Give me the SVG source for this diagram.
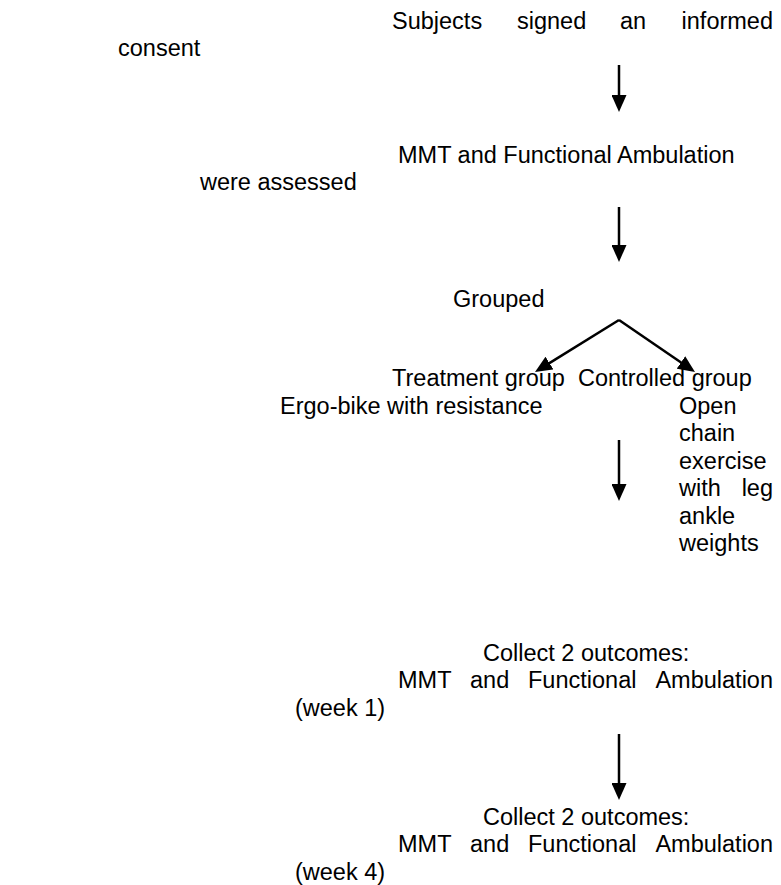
<svg xmlns="http://www.w3.org/2000/svg" width="781" height="885" viewBox="0 0 781 885">
<style>
text { font-family: "Liberation Sans", Arial, sans-serif; font-size: 23.5px; fill: #000; }
.end { text-anchor: end; }
.conn { stroke: #000; stroke-width: 2.5; fill: none; marker-end: url(#head); }
</style>
<defs>
<marker id="head" markerUnits="userSpaceOnUse" markerWidth="17" markerHeight="15" refX="1" refY="7.5" orient="auto" viewBox="0 0 17 15">
<path d="M0,0 L17,7.5 L0,15 z" fill="#000"/>
</marker>
</defs>
<rect width="781" height="885" fill="#fff"/>
<g id="consent">
<text x="392" y="29">Subjects</text>
<text x="517" y="29">signed</text>
<text x="620" y="29">an</text>
<text x="773" y="29" class="end">informed</text>
<text x="118" y="56">consent</text>
</g>
<g id="assessed">
<text x="398" y="163">MMT and Functional Ambulation</text>
<text x="200" y="190">were assessed</text>
</g>
<g id="grouped">
<text x="453" y="307">Grouped</text>
</g>
<g id="treatment">
<text x="392" y="386">Treatment group</text>
<text x="280" y="414">Ergo-bike with resistance</text>
</g>
<g id="controlled">
<text x="578" y="386">Controlled group</text>
<text x="679" y="414">Open</text>
<text x="679" y="441">chain</text>
<text x="679" y="469">exercise</text>
<text x="679" y="496">with</text>
<text x="773" y="496" class="end">leg</text>
<text x="679" y="524">ankle</text>
<text x="679" y="551">weights</text>
</g>
<g id="week1">
<text x="483" y="661">Collect 2 outcomes:</text>
<text x="398" y="688">MMT</text>
<text x="470" y="688">and</text>
<text x="528" y="688">Functional</text>
<text x="773" y="688" class="end">Ambulation</text>
<text x="295" y="716">(week 1)</text>
</g>
<g id="week4">
<text x="483" y="825">Collect 2 outcomes:</text>
<text x="398" y="852">MMT</text>
<text x="470" y="852">and</text>
<text x="528" y="852">Functional</text>
<text x="773" y="852" class="end">Ambulation</text>
<text x="295" y="880">(week 4)</text>
</g>
<g id="connectors">
<path class="conn" d="M619,65 L619,96"/>
<path class="conn" d="M619,207 L619,246"/>
<path class="conn" d="M619,320 L548.6,363.6"/>
<path class="conn" d="M619,320 L681.8,363"/>
<path class="conn" d="M619,440 L619,485"/>
<path class="conn" d="M619,734 L619,784"/>
</g>
</svg>
